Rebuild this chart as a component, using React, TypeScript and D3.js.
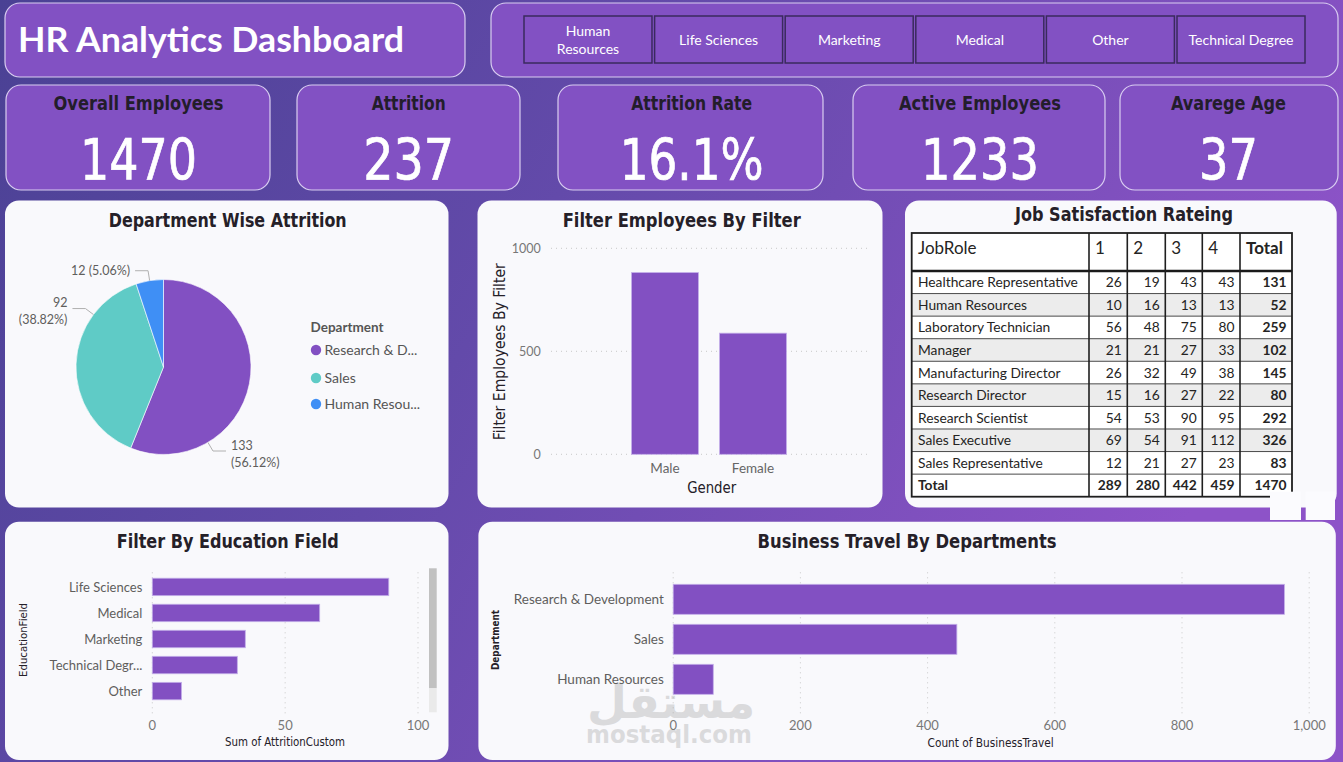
import React from "react";
import * as d3 from "d3";

// ---- data ----
const educationFields = ["Human Resources", "Life Sciences", "Marketing", "Medical", "Other", "Technical Degree"];

const kpiLabels = ["Overall Employees", "Attrition", "Attrition Rate", "Active Employees", "Avarege Age"];
const kpiValues = ["1470", "237", "16.1%", "1233", "37"];

const departments = ["Research & Development", "Sales", "Human Resources"];
const deptAttrition = [133, 92, 12];
const legendLabels = ["Research & D...", "Sales", "Human Resou..."];

const genders = ["Male", "Female"];
const genderCounts = [882, 588];
const genderTicks = [0, 500, 1000];

const jobRoles = [
  "Healthcare Representative",
  "Human Resources",
  "Laboratory Technician",
  "Manager",
  "Manufacturing Director",
  "Research Director",
  "Research Scientist",
  "Sales Executive",
  "Sales Representative",
];
const satisfaction1 = [26, 10, 56, 21, 26, 15, 54, 69, 12];
const satisfaction2 = [19, 16, 48, 21, 32, 16, 53, 54, 21];
const satisfaction3 = [43, 13, 75, 27, 49, 27, 90, 91, 27];
const satisfaction4 = [43, 13, 80, 33, 38, 22, 95, 112, 23];
const satisfactionHeaders = ["1", "2", "3", "4"];

const eduFields = ["Life Sciences", "Medical", "Marketing", "Technical Degr...", "Other"];
const eduAttrition = [89, 63, 35, 32, 11];
const eduTicks = [0, 50, 100];

const travelDepts = ["Research & Development", "Sales", "Human Resources"];
const travelCounts = [961, 446, 63];
const travelTicks = [0, 200, 400, 600, 800, 1000];

// ---- styles ----
const W = 1343;
const H = 762;
const PURPLE = "#8250c2";
const CARD = "#8251c3";
const PANEL = "#f9f9fc";
const PIE_COLORS = ["#8250c2", "#5fcbc6", "#3f8ff5"];
const DIN = "'DejaVu Sans Condensed', 'Liberation Sans Narrow', 'DejaVu Sans', sans-serif";
const SEGOE = "'Segoe UI', Lato, 'Open Sans', sans-serif";

function Card({ x, y, w, h }: { x: number; y: number; w: number; h: number }) {
  return <rect x={x} y={y} width={w} height={h} rx={15} fill={CARD} stroke="#d9cdf1" strokeWidth={1.2} />;
}

function Panel({ x, y, w, h }: { x: number; y: number; w: number; h: number }) {
  return <rect x={x} y={y} width={w} height={h} rx={14} fill={PANEL} />;
}

function Title({ x, y, len, size = 20, children }: { x: number; y: number; len: number; size?: number; children: string }) {
  return (
    <text
      x={x}
      y={y}
      textAnchor="middle"
      fontFamily={DIN}
      fontStretch="condensed"
      fontWeight="bold"
      fontSize={size}
      fill="#252028"
      textLength={len}
      lengthAdjust="spacingAndGlyphs"
    >
      {children}
    </text>
  );
}

// KPI card layout
const kpiBoxes = [
  { x: 6, w: 264, cx: 138.5, lw: 170, vw: 117 },
  { x: 297, w: 223, cx: 408.7, lw: 74, vw: 91 },
  { x: 558, w: 265, cx: 691.7, lw: 121, vw: 144 },
  { x: 853, w: 252, cx: 980, lw: 162, vw: 118 },
  { x: 1120, w: 218, cx: 1228.5, lw: 115, vw: 59 },
];

// table layout
const colEdges = [911.7, 1089, 1127.3, 1165.3, 1202.3, 1240, 1292];
const TABLE_TOP = 233;
const HEADER_BOTTOM = 271;
const TABLE_BOTTOM = 496.7;

export default function App() {
  // pie
  const pieCx = 163.5;
  const pieCy = 367;
  const pieR = 87.5;
  const total = d3.sum(deptAttrition);
  const slices = d3.pie<number>().sort(null).value((d) => d)(deptAttrition);
  const arc = d3.arc<d3.PieArcDatum<number>>().innerRadius(0).outerRadius(pieR);
  const labelFrac = [0.74, 0.75, 0.5];
  const labelWrap = [true, true, false];

  // gender bars
  const gx = d3.scaleBand<string>().domain(genders).range([621, 797]).paddingInner(0.24).paddingOuter(0.12);
  const gy = d3.scaleLinear().domain([0, 1000]).range([454.3, 248.3]);

  // education bars
  const ex = d3.scaleLinear().domain([0, 100]).range([152.3, 418]);
  const ey = d3.scaleBand<string>().domain(eduFields).range([573, 705]).paddingInner(0.33).paddingOuter(0.2);

  // travel bars
  const tx = d3.scaleLinear().domain([0, 1000]).range([673.2, 1309.2]);
  const ty = d3.scaleBand<string>().domain(travelDepts).range([579.3, 699.3]).paddingInner(0.25).paddingOuter(0.125);
  const fmtComma = d3.format(",");

  // slicer buttons
  const sx = d3.scaleBand<string>().domain(educationFields).range([524, 1305]).paddingInner(0.02);

  // table rows
  const rowNames = [...jobRoles, "Total"];
  const ry = d3.scaleBand<string>().domain(rowNames).range([HEADER_BOTTOM, TABLE_BOTTOM]);
  const satCols = [satisfaction1, satisfaction2, satisfaction3, satisfaction4];
  const rowTotals = jobRoles.map((_, i) => d3.sum(satCols, (c) => c[i]));
  const colTotals = satCols.map((c) => d3.sum(c));
  const grandTotal = d3.sum(rowTotals);

  return (
    <svg
      width={W}
      height={H}
      viewBox={`0 0 ${W} ${H}`}
      style={{ position: "absolute", left: 0, top: 0, display: "block" }}
    >
      <defs>
        <linearGradient id="bg" x1="0" y1="0" x2="1" y2="0.35">
          <stop offset="0" stopColor="#4a4194" />
          <stop offset="0.45" stopColor="#634aaa" />
          <stop offset="1" stopColor="#8d53c8" />
        </linearGradient>
      </defs>
      <rect width={W} height={H} fill="url(#bg)" />

      {/* header */}
      <Card x={5} y={3} w={460} h={74} />
      <text
        x={18}
        y={52}
        fontFamily={SEGOE}
        fontWeight="bold"
        fontSize={34}
        fill="#ffffff"
        textLength={386}
        lengthAdjust="spacingAndGlyphs"
      >
        HR Analytics Dashboard
      </text>

      <Card x={491} y={3} w={847} h={74} />
      {educationFields.map((f) => {
        const bx = sx(f) ?? 0;
        const bw = sx.bandwidth();
        const words = f === "Human Resources" ? ["Human", "Resources"] : [f];
        return (
          <g key={f}>
            <rect x={bx} y={16} width={bw} height={47} fill={CARD} stroke="#3a2a5e" strokeWidth={1.5} />
            {words.map((wd, i) => (
              <text
                key={wd}
                x={bx + bw / 2}
                y={words.length === 1 ? 45 : 36 + i * 18}
                textAnchor="middle"
                fontFamily={SEGOE}
                fontSize={14}
                fill="#ffffff"
              >
                {wd}
              </text>
            ))}
          </g>
        );
      })}

      {/* KPI cards */}
      {kpiLabels.map((lab, i) => {
        const b = kpiBoxes[i];
        return (
          <g key={lab}>
            <Card x={b.x} y={85} w={b.w} h={105} />
            <text
              x={b.cx}
              y={110}
              textAnchor="middle"
              fontFamily={DIN}
              fontStretch="condensed"
              fontWeight="bold"
              fontSize={20}
              fill="#231d2b"
              textLength={b.lw}
              lengthAdjust="spacingAndGlyphs"
            >
              {lab}
            </text>
            <text
              x={b.cx}
              y={179.5}
              textAnchor="middle"
              fontFamily={DIN}
              fontStretch="condensed"
              fontSize={57}
              fill="#ffffff"
              stroke="#ffffff"
              strokeWidth={0.7}
              textLength={b.vw}
              lengthAdjust="spacingAndGlyphs"
            >
              {kpiValues[i]}
            </text>
          </g>
        );
      })}

      {/* Department wise attrition pie */}
      <Panel x={5} y={200.5} w={443.5} h={307} />
      <Title x={227.7} y={226.5} len={238}>
        Department Wise Attrition
      </Title>
      <g transform={`translate(${pieCx},${pieCy})`}>
        {slices.map((s, i) => (
          <path key={i} d={arc(s) ?? ""} fill={PIE_COLORS[i]} stroke="#ffffff" strokeWidth={0.6} />
        ))}
      </g>
      {slices.map((s, i) => {
        const a = s.startAngle + labelFrac[i] * (s.endAngle - s.startAngle);
        const p0 = [pieCx + pieR * Math.sin(a), pieCy - pieR * Math.cos(a)];
        const p1 = [pieCx + (pieR + 10) * Math.sin(a), pieCy - (pieR + 10) * Math.cos(a)];
        const dir = Math.sin(a) >= 0 ? 1 : -1;
        const p2 = [p1[0] + dir * 13, p1[1]];
        const pct = `(${((s.value / total) * 100).toFixed(2)}%)`;
        const lines = labelWrap[i] ? [`${s.value}`, pct] : [`${s.value} ${pct}`];
        const tx0 = p2[0] + dir * 5;
        return (
          <g key={i}>
            <polyline
              points={[p0, p1, p2].map((p) => p.join(",")).join(" ")}
              fill="none"
              stroke="#b0b0b0"
              strokeWidth={1}
            />
            {lines.map((ln, j) => (
              <text
                key={j}
                x={tx0}
                y={lines.length === 1 ? p2[1] + 4.5 : p2[1] - 1.5 + j * 17}
                textAnchor={dir > 0 ? "start" : "end"}
                fontFamily={SEGOE}
                fontSize={12.5}
                fill="#605e5c"
              >
                {ln}
              </text>
            ))}
          </g>
        );
      })}
      <text x={310.5} y={332} fontFamily={SEGOE} fontWeight="bold" fontSize={13.5} fill="#555555">
        Department
      </text>
      {departments.map((d, i) => {
        const ly = [350, 378, 404][i];
        return (
          <g key={d}>
            <circle cx={316} cy={ly} r={5.2} fill={PIE_COLORS[i]} />
            <text x={324.5} y={ly + 5} fontFamily={SEGOE} fontSize={14} fill="#555555">
              {legendLabels[i]}
            </text>
          </g>
        );
      })}

      {/* Gender bars */}
      <Panel x={477.5} y={200.5} w={405} h={307} />
      <Title x={681.7} y={226.5} len={238}>
        Filter Employees By Filter
      </Title>
      {genderTicks.map((t) => (
        <g key={t}>
          <line x1={551} x2={869} y1={gy(t)} y2={gy(t)} stroke="#c8c8c8" strokeDasharray="1,4" />
          <text x={540.7} y={gy(t) + 4.5} textAnchor="end" fontFamily={SEGOE} fontSize={12.5} fill="#777777">
            {t}
          </text>
        </g>
      ))}
      {genders.map((g, i) => (
        <g key={g}>
          <rect
            x={gx(g)}
            y={gy(genderCounts[i])}
            width={gx.bandwidth()}
            height={gy(0) - gy(genderCounts[i])}
            fill={PURPLE}
            stroke="#c3aee9"
            strokeWidth={0.8}
          />
          <text
            x={(gx(g) ?? 0) + gx.bandwidth() / 2}
            y={472.5}
            textAnchor="middle"
            fontFamily={SEGOE}
            fontSize={13.5}
            fill="#666666"
          >
            {g}
          </text>
        </g>
      ))}
      <text
        x={711.7}
        y={493}
        textAnchor="middle"
        fontFamily={DIN}
        fontStretch="condensed"
        fontSize={15}
        fill="#252028"
        textLength={49}
        lengthAdjust="spacingAndGlyphs"
      >
        Gender
      </text>
      <text
        transform="translate(504.5,351.7) rotate(-90)"
        textAnchor="middle"
        fontFamily={DIN}
        fontStretch="condensed"
        fontSize={15}
        fill="#252028"
        textLength={177}
        lengthAdjust="spacingAndGlyphs"
      >
        Filter Employees By Filter
      </text>

      {/* Job satisfaction table */}
      <Panel x={905} y={200.5} w={431.7} h={307} />
      <Title x={1124} y={221} len={218}>
        Job Satisfaction Rateing
      </Title>
      <rect
        x={colEdges[0]}
        y={TABLE_TOP}
        width={colEdges[6] - colEdges[0]}
        height={TABLE_BOTTOM - TABLE_TOP}
        fill="#ffffff"
      />
      {jobRoles.map((jr, i) =>
        i % 2 === 1 ? (
          <rect
            key={jr}
            x={colEdges[0]}
            y={ry(jr)}
            width={colEdges[6] - colEdges[0]}
            height={ry.bandwidth()}
            fill="#ececec"
          />
        ) : null
      )}
      {rowNames.slice(1).map((rn) => (
        <line
          key={rn}
          x1={colEdges[0]}
          x2={colEdges[6]}
          y1={ry(rn)}
          y2={ry(rn)}
          stroke="#4a4a4a"
          strokeWidth={1}
        />
      ))}
      <line x1={colEdges[0]} x2={colEdges[6]} y1={HEADER_BOTTOM} y2={HEADER_BOTTOM} stroke="#1a1a1a" strokeWidth={2.5} />
      {colEdges.slice(1, 6).map((cx) => (
        <line key={cx} x1={cx} x2={cx} y1={TABLE_TOP} y2={TABLE_BOTTOM} stroke="#1f1f1f" strokeWidth={1.6} />
      ))}
      <rect
        x={colEdges[0]}
        y={TABLE_TOP}
        width={colEdges[6] - colEdges[0]}
        height={TABLE_BOTTOM - TABLE_TOP}
        fill="none"
        stroke="#1f1f1f"
        strokeWidth={1.8}
      />
      <text x={918} y={254} fontFamily={SEGOE} fontSize={17} fill="#252423">
        JobRole
      </text>
      {satisfactionHeaders.map((h, i) => (
        <text key={h} x={colEdges[i + 1] + 6} y={254} fontFamily={SEGOE} fontSize={17} fill="#252423">
          {h}
        </text>
      ))}
      <text x={colEdges[5] + 6} y={254} fontFamily={SEGOE} fontWeight="bold" fontSize={17} fill="#252423">
        Total
      </text>
      {rowNames.map((rn, i) => {
        const isTotal = rn === "Total";
        const y = (ry(rn) ?? 0) + ry.bandwidth() / 2 + 5;
        const vals = isTotal ? [...colTotals, grandTotal] : [...satCols.map((c) => c[i]), rowTotals[i]];
        return (
          <g key={rn} fontFamily={SEGOE} fontSize={13.8} fill="#252423">
            <text x={918} y={y} fontWeight={isTotal ? "bold" : "normal"}>
              {rn}
            </text>
            {vals.map((v, j) => (
              <text
                key={j}
                x={colEdges[j + 2] - 5.5}
                y={y}
                textAnchor="end"
                fontWeight={isTotal || j === 4 ? "bold" : "normal"}
              >
                {v}
              </text>
            ))}
          </g>
        );
      })}
      <rect x={1270} y={491.7} width={31} height={28.3} fill="#fbfbfe" />
      <rect x={1305.7} y={491.7} width={29.3} height={28.3} fill="#fbfbfe" />

      {/* Education field bars */}
      <Panel x={5} y={521.7} w={443.5} h={238.3} />
      <Title x={227.7} y={547.5} len={222}>
        Filter By Education Field
      </Title>
      {eduTicks.map((t) => (
        <g key={t}>
          <line x1={ex(t)} x2={ex(t)} y1={572.3} y2={714.3} stroke="#c8c8c8" strokeDasharray="1,4" />
          <text x={ex(t)} y={729.5} textAnchor="middle" fontFamily={SEGOE} fontSize={13} fill="#777777">
            {t}
          </text>
        </g>
      ))}
      {eduFields.map((f, i) => (
        <g key={f}>
          <rect
            x={ex(0)}
            y={ey(f)}
            width={ex(eduAttrition[i]) - ex(0)}
            height={ey.bandwidth()}
            fill={PURPLE}
            stroke="#c3aee9"
            strokeWidth={0.8}
          />
          <text
            x={142.3}
            y={(ey(f) ?? 0) + ey.bandwidth() / 2 + 4.6}
            textAnchor="end"
            fontFamily={SEGOE}
            fontSize={13}
            fill="#605e5c"
          >
            {f}
          </text>
        </g>
      ))}
      <rect x={429} y={568.3} width={7.7} height={120} fill="#c1c1c1" />
      <rect x={429} y={688.3} width={7.7} height={24} fill="#eaeaea" />
      <text
        x={285}
        y={746}
        textAnchor="middle"
        fontFamily={DIN}
        fontStretch="condensed"
        fontSize={11.5}
        fill="#252028"
        textLength={120}
        lengthAdjust="spacingAndGlyphs"
      >
        Sum of AttritionCustom
      </text>
      <text
        transform="translate(26.5,640) rotate(-90)"
        textAnchor="middle"
        fontFamily={DIN}
        fontStretch="condensed"
        fontSize={11}
        fill="#252028"
        textLength={74}
        lengthAdjust="spacingAndGlyphs"
      >
        EducationField
      </text>

      {/* Business travel bars */}
      <Panel x={478.4} y={521.7} w={857.4} h={238.3} />
      <Title x={907} y={548} len={299}>
        Business Travel By Departments
      </Title>
      {travelTicks.map((t) => (
        <line key={t} x1={tx(t)} x2={tx(t)} y1={572.3} y2={715} stroke="#c8c8c8" strokeDasharray="1,4" />
      ))}
      {travelDepts.map((d, i) => (
        <rect
          key={d}
          x={tx(0)}
          y={ty(d)}
          width={tx(travelCounts[i]) - tx(0)}
          height={ty.bandwidth()}
          fill={PURPLE}
          stroke="#c3aee9"
          strokeWidth={0.8}
        />
      ))}

      {/* site watermark, sits under the axis text */}
      <g fill="#9c9c9c" opacity={0.32} fontFamily="'DejaVu Sans', sans-serif" fontWeight="bold" textAnchor="middle">
        <text x={671} y={718} fontSize={46}>
          مستقل
        </text>
        <text x={669} y={743} fontSize={25} textLength={166} lengthAdjust="spacingAndGlyphs">
          mostaql.com
        </text>
      </g>

      {travelTicks.map((t) => (
        <text key={t} x={tx(t)} y={729.5} textAnchor="middle" fontFamily={SEGOE} fontSize={13} fill="#777777">
          {fmtComma(t)}
        </text>
      ))}
      {travelDepts.map((d) => (
        <text
          key={d}
          x={663.8}
          y={(ty(d) ?? 0) + ty.bandwidth() / 2 + 4.8}
          textAnchor="end"
          fontFamily={SEGOE}
          fontSize={13.5}
          fill="#605e5c"
        >
          {d}
        </text>
      ))}
      <text
        x={990.6}
        y={746.5}
        textAnchor="middle"
        fontFamily={DIN}
        fontStretch="condensed"
        fontSize={11.5}
        fill="#252028"
        textLength={126}
        lengthAdjust="spacingAndGlyphs"
      >
        Count of BusinessTravel
      </text>
      <text
        transform="translate(498.5,640) rotate(-90)"
        textAnchor="middle"
        fontFamily={DIN}
        fontWeight="bold"
        fontSize={10}
        fill="#252028"
        textLength={60}
        lengthAdjust="spacingAndGlyphs"
      >
        Department
      </text>
    </svg>
  );
}
